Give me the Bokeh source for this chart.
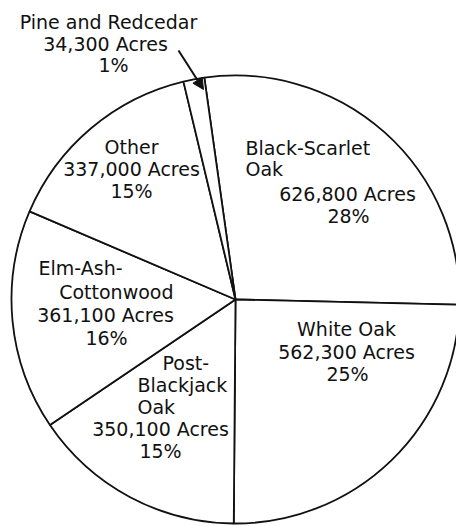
from math import radians
from bokeh.plotting import figure
from bokeh.models import Range1d, Arrow, NormalHead, ColumnDataSource
from bokeh.embed import file_html
from bokeh.resources import INLINE
from bokeh.core.properties import value

# ---- data (clockwise from the top) ----
categories = ["Black-Scarlet Oak", "White Oak", "Post-Blackjack Oak",
              "Elm-Ash-Cottonwood", "Other", "Pine and Redcedar"]
acres = [626800, 562300, 350100, 361100, 337000, 34300]
percents = [28, 25, 15, 16, 15, 1]
name_lines = [["Black-Scarlet", "Oak"], ["White Oak"], ["Post-", "Blackjack", "Oak"],
              ["Elm-Ash-", "Cottonwood"], ["Other"], ["Pine and Redcedar"]]

# ---- layout ----
W, H = 456, 526


def pg(x, y):
    """page pixel -> plot units"""
    return x, H - y


CX, CY = pg(235, 299)
R = 224
START_CW = -8.0                    # clockwise degrees from top where first slice begins

# line anchors (page px) for each label line: (x, y, align)
label_pos = [
    [(245, 147, "left"), (245, 168, "left"), (347, 193, "center"), (348, 215, "center")],
    [(346, 328, "center"), (346, 351, "center"), (347, 373, "center")],
    [(162, 362, "left"), (137, 384, "left"), (137, 406, "left"), (160, 428, "center"), (160, 450, "center")],
    [(38, 267, "left"), (173, 291, "right"), (105, 314, "center"), (106, 337, "center")],
    [(131, 146, "center"), (131, 168, "center"), (131, 190, "center")],
    [(108, 21, "center"), (105, 43, "center"), (113, 64, "center")],
]

p = figure(width=W, height=H, output_backend="svg", toolbar_location=None,
           x_range=Range1d(0, W), y_range=Range1d(0, H), min_border=0)
p.axis.visible = False
p.grid.visible = False
p.outline_line_color = None
p.background_fill_color = "white"
p.border_fill_color = "white"

total = sum(acres)
starts, ends = [], []
cw = START_CW
for a in acres:
    span = a / total * 360.0
    cw_end = cw + span
    # convert clockwise-from-top to math angles (anticlockwise from +x)
    starts.append(radians(90.0 - cw_end))
    ends.append(radians(90.0 - cw))
    cw = cw_end

src = ColumnDataSource(dict(start=starts, end=ends, cat=categories))
p.wedge(x=CX, y=CY, radius=R, start_angle="start", end_angle="end", source=src,
        fill_color="white", line_color="#111111", line_width=1.8)

xs, ys, ts, al = [], [], [], []
for i, cat in enumerate(categories):
    lines = name_lines[i] + [f"{acres[i]:,} Acres", f"{percents[i]}%"]
    for txt, (px, py, align) in zip(lines, label_pos[i]):
        x, y = pg(px, py)
        xs.append(x); ys.append(y); ts.append(txt); al.append(align)

tsrc = ColumnDataSource(dict(x=xs, y=ys, text=ts, align=al))
p.text(x="x", y="y", text="text", source=tsrc, text_align="align",
       text_baseline="middle", text_font=value("DejaVu Sans"),
       text_font_size="19px", text_color="#111111")

# arrow from the Pine and Redcedar label to its thin slice
ax0, ay0 = pg(178, 50)
ax1, ay1 = pg(203, 89)
p.add_layout(Arrow(end=NormalHead(size=11, fill_color="#111111", line_color="#111111"),
                   x_start=ax0, y_start=ay0, x_end=ax1, y_end=ay1,
                   line_width=2, line_color="#111111"))

open("out.html", "w").write(file_html(p, INLINE))
